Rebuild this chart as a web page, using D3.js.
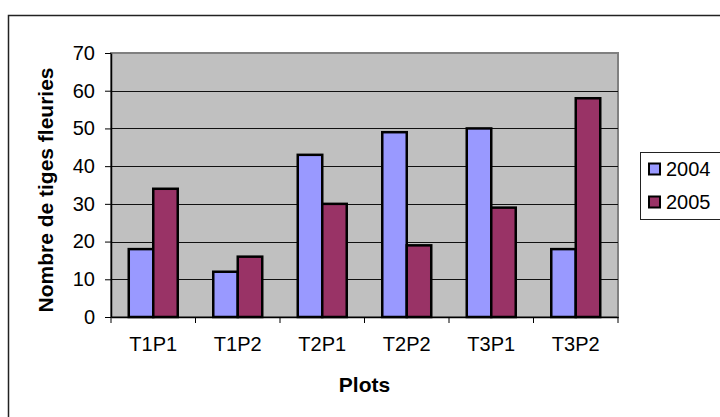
<!DOCTYPE html>
<html>
<head>
<meta charset="utf-8">
<script src="https://cdn.jsdelivr.net/npm/d3@7"></script>
<style>
  body { margin: 0; background: #fff; }
  svg { display: block; font-family: "Liberation Sans", Arial, sans-serif; }
</style>
</head>
<body>
<svg width="720" height="417"></svg>
<script>
// data
var categories = ["T1P1", "T1P2", "T2P1", "T2P2", "T3P1", "T3P2"];
var seriesNames = ["2004", "2005"];
var values2004 = [18, 12, 43, 49, 50, 18];
var values2005 = [34, 16, 30, 19, 29, 58];
var yTicks = [0, 10, 20, 30, 40, 50, 60, 70];

var colors = { "2004": "#9999FF", "2005": "#993366" };

var svg = d3.select("svg");
var plot = { left: 111, right: 618, top: 53, bottom: 317 };

var data = categories.map(function(c, i) {
    return { cat: c, values: [
        { name: "2004", value: values2004[i] },
        { name: "2005", value: values2005[i] }
    ]};
});

var x0 = d3.scaleBand()
    .domain(categories)
    .range([plot.left, plot.right])
    .padding(0);

var x1 = d3.scaleBand()
    .domain(seriesNames)
    .range([0, x0.bandwidth()])
    .paddingInner(0)
    .paddingOuter(0.725);

var y = d3.scaleLinear()
    .domain([0, 70])
    .range([plot.bottom, plot.top]);

// outer chart frame (runs off the right/bottom edges)
svg.append("rect")
    .attr("x", 8.5).attr("y", 15.5)
    .attr("width", 730).attr("height", 420)
    .attr("fill", "none")
    .attr("stroke", "#222")
    .attr("stroke-width", 1.5);

// plot area
svg.append("rect")
    .attr("x", plot.left).attr("y", plot.top)
    .attr("width", plot.right - plot.left)
    .attr("height", plot.bottom - plot.top)
    .attr("fill", "#C0C0C0")
    .attr("stroke", "#808080")
    .attr("stroke-width", 2);

// gridlines
svg.append("g")
    .selectAll("line")
    .data(yTicks.filter(function(d) { return d > 0 && d < 70; }))
    .enter().append("line")
    .attr("x1", plot.left).attr("x2", plot.right)
    .attr("y1", function(d) { return Math.round(y(d)) + 0.5; })
    .attr("y2", function(d) { return Math.round(y(d)) + 0.5; })
    .attr("stroke", "#111")
    .attr("stroke-width", 1);

// bars
var slice = svg.selectAll(".slice")
    .data(data)
    .enter().append("g")
    .attr("class", "slice")
    .attr("transform", function(d) { return "translate(" + x0(d.cat) + ",0)"; });

slice.selectAll("rect")
    .data(function(d) { return d.values; })
    .enter().append("rect")
    .attr("x", function(d) { return x1(d.name); })
    .attr("y", function(d) { return y(d.value); })
    .attr("width", x1.bandwidth())
    .attr("height", function(d) { return y(0) - y(d.value); })
    .attr("fill", function(d) { return colors[d.name]; })
    .attr("stroke", "#000")
    .attr("stroke-width", 2.5);

// axes
var yAxis = d3.axisLeft(y).tickValues(yTicks).tickSize(6).tickPadding(10).tickSizeOuter(0);
var gy = svg.append("g")
    .attr("transform", "translate(" + plot.left + ",0)")
    .call(yAxis);
gy.select(".domain").attr("stroke", "#000").attr("stroke-width", 1.5);
gy.selectAll(".tick line").attr("stroke", "#000");
gy.selectAll("text")
    .attr("font-size", 20)
    .attr("font-family", "Liberation Sans, Arial, sans-serif")
    .attr("fill", "#000");

var xAxis = d3.axisBottom(x0).tickSize(0).tickPadding(20).tickSizeOuter(0);
var gx = svg.append("g")
    .attr("transform", "translate(0," + plot.bottom + ")")
    .call(xAxis);
gx.select(".domain").attr("stroke", "#000").attr("stroke-width", 1.5);
gx.selectAll("text")
    .attr("font-size", 20)
    .attr("font-family", "Liberation Sans, Arial, sans-serif")
    .attr("fill", "#000");

// category separators
gx.append("g")
    .selectAll("line")
    .data(categories.concat(["end"]))
    .enter().append("line")
    .attr("x1", function(d, i) { return plot.left + i * x0.step(); })
    .attr("x2", function(d, i) { return plot.left + i * x0.step(); })
    .attr("y1", 0).attr("y2", 6)
    .attr("stroke", "#000");

// axis titles
svg.append("text")
    .attr("x", (plot.left + plot.right) / 2)
    .attr("y", 392)
    .attr("text-anchor", "middle")
    .attr("font-size", 21)
    .attr("font-weight", "bold")
    .text("Plots");

svg.append("text")
    .attr("transform", "translate(53," + 190 + ") rotate(-90)")
    .attr("text-anchor", "middle")
    .attr("font-size", 21)
    .attr("font-weight", "bold")
    .text("Nombre de tiges fleuries");

// legend
var legendBox = svg.append("g").attr("transform", "translate(640,152)");
legendBox.append("rect")
    .attr("x", 0.5).attr("y", 0.5)
    .attr("width", 100).attr("height", 67)
    .attr("fill", "#fff")
    .attr("stroke", "#222")
    .attr("stroke-width", 1);

var legend = legendBox.selectAll(".legend")
    .data(seriesNames)
    .enter().append("g")
    .attr("class", "legend")
    .attr("transform", function(d, i) { return "translate(0," + (i * 33) + ")"; });

legend.append("rect")
    .attr("x", 9).attr("y", 11.5)
    .attr("width", 11).attr("height", 11)
    .attr("fill", function(d) { return colors[d]; })
    .attr("stroke", "#000")
    .attr("stroke-width", 2);

legend.append("text")
    .attr("x", 26)
    .attr("y", 24)
    .attr("font-size", 20)
    .text(function(d) { return d; });
</script>
</body>
</html>
